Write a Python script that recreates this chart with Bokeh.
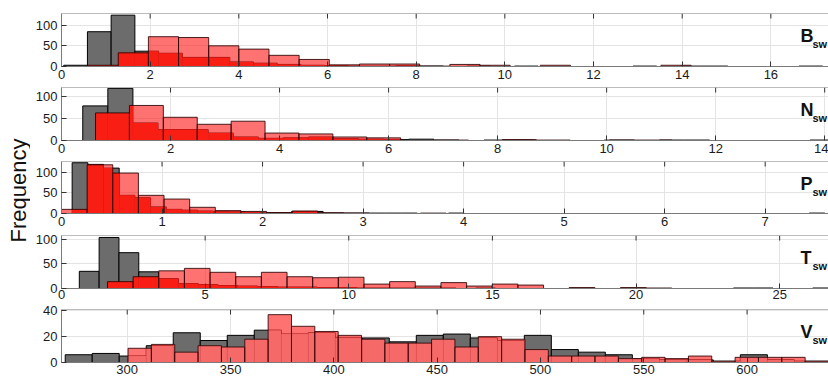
import numpy as np
from bokeh.plotting import figure
from bokeh.layouts import row, column
from bokeh.models import ColumnDataSource, FixedTicker, Range1d, Label, Span
from bokeh.embed import file_html
from bokeh.resources import INLINE
from bokeh.core.properties import value

# ---- B_sw -------------------------------------------------------------
b_gray_start, b_gray_width = 0.05, 0.535
b_gray_counts = [3, 84, 124, 37, 32, 22, 22, 11, 8, 5, 3, 2, 1, 1, 2, 1, 0, 1, 0, 1,
                 0, 0, 0, 0, 1, 0, 1, 1, 0, 0, 0, 1, 0]
b_red_start, b_red_width = 0.60, 0.68
b_red_counts = [3, 33, 72, 70, 50, 42, 27, 17, 4, 6, 6, 1, 5, 3, 0, 3, 0, 0, 0, 3, 0]

# ---- N_sw -------------------------------------------------------------
n_gray_start, n_gray_width = 0.39, 0.46
n_gray_counts = [79, 119, 40, 25, 25, 17, 8, 5, 6, 8, 4, 3, 2, 3, 1, 0, 1, 1, 0, 0,
                 0, 1, 0, 1, 1, 0, 0, 0, 0, 1]
n_red_start, n_red_width = 0.624, 0.622
n_red_counts = [63, 80, 53, 37, 44, 17, 15, 8, 6, 0, 1, 0, 2, 1, 0, 1, 1, 0]

# ---- P_sw -------------------------------------------------------------
p_gray_start, p_gray_width = 0.106, 0.156
p_gray_counts = [123, 119, 110, 44, 38, 16, 10, 8, 6, 5, 4, 3, 2, 2, 5, 5, 1, 1, 1, 1,
                 1, 1, 0, 0, 1, 0, 0, 0, 0, 0, 0, 0, 0, 0, 0, 0, 0, 0, 0, 0,
                 0, 0, 0, 0, 0, 0, 0, 1]
p_red_start, p_red_width = 0.0, 0.255
p_red_counts = [10, 118, 98, 44, 35, 15, 7, 5, 2, 6, 2, 1, 0, 0, 1, 0]

# ---- T_sw -------------------------------------------------------------
t_gray_start, t_gray_width = 0.62, 0.69
t_gray_counts = [35, 104, 73, 34, 20, 10, 8, 6, 5, 4, 3, 3, 2, 2, 1, 1, 1, 1, 1, 0,
                 1, 0, 0, 0, 0, 0, 0, 0, 0, 0, 0, 0, 0, 1, 1, 0, 0, 1]
t_red_start, t_red_width = 1.60, 0.893
t_red_counts = [14, 24, 36, 41, 33, 24, 33, 24, 22, 23, 9, 14, 5, 12, 5, 9, 7, 0, 2, 0,
                2, 1, 0]

# ---- V_sw -------------------------------------------------------------
v_gray_start, v_gray_width = 270.0, 13.07
v_gray_counts = [6, 7, 5, 13, 23, 17, 21, 25, 22, 23, 19, 19, 16, 21, 22, 19, 17, 21, 10, 8,
                 6, 3, 2, 2, 1, 6, 2, 1, 1]
v_red_start, v_red_width = 300.4, 11.3
v_red_counts = [11, 14, 8, 13, 12, 18, 37, 28, 24, 21, 18, 15, 15, 18, 12, 20, 18, 10, 5, 5,
                5, 3, 4, 3, 5, 1, 4, 4, 4, 1]

panel_names = ["B", "N", "P", "T", "V"]
x_ticks = [list(range(0, 17, 2)), list(range(0, 15, 2)), list(range(0, 8)),
           list(range(0, 26, 5)), list(range(300, 601, 50))]
y_ticks = [[0, 50, 100]] * 4 + [[0, 20, 40]]
x_limits = [(0, 17.3), (0, 14.07), (0, 7.63), (0, 26.7), (268.2, 639.4)]
y_limits = [128, 121, 126, 108, 41]

gray_hists = [(b_gray_start, b_gray_width, b_gray_counts),
              (n_gray_start, n_gray_width, n_gray_counts),
              (p_gray_start, p_gray_width, p_gray_counts),
              (t_gray_start, t_gray_width, t_gray_counts),
              (v_gray_start, v_gray_width, v_gray_counts)]
red_hists = [(b_red_start, b_red_width, b_red_counts),
             (n_red_start, n_red_width, n_red_counts),
             (p_red_start, p_red_width, p_red_counts),
             (t_red_start, t_red_width, t_red_counts),
             (v_red_start, v_red_width, v_red_counts)]

# shading of the part where a red bar sits in front of a gray bar
overlap_fill = ["#ee2e16", "#ee2e16", "#ee2e16", "#ee2e16", "white"]
overlap_alpha = [1.0, 1.0, 1.0, 1.0, 0.85]

FONT = "Liberation Sans"
AXIS_COLOR = "#7a7a7a"
TICK_COLOR = "#333333"
GRID_COLOR = "#e4e4e4"
LEFT = 61
TOTAL_W = 828
LABEL_W = 30

# per-panel figure heights, borders (top, bottom) and x tick-label standoff
heights = [85, 74, 73, 71, 73]
borders = [(13, 19), (2, 19), (2, 19), (3, 15), (6, 14)]
x_standoff = [3, 3, 3, 1, 2]


def bin_edges(start, width, counts):
    counts = np.asarray(counts, dtype=float)
    left = start + width * np.arange(len(counts))
    return left, left + width, counts


def hist_source(start, width, counts):
    left, right, top = bin_edges(start, width, counts)
    return ColumnDataSource(dict(left=left, right=right, top=top,
                                 bottom=np.zeros_like(top)))


def overlap_source(gray, red):
    gl, gr, gt = bin_edges(*gray)
    rl, rr, rt = bin_edges(*red)
    cols = dict(left=[], right=[], top=[], bottom=[])
    for a, b, h in zip(gl, gr, gt):
        for c, d, k in zip(rl, rr, rt):
            lo, hi, top = max(a, c), min(b, d), min(h, k)
            if hi > lo and top > 0:
                cols["left"].append(lo)
                cols["right"].append(hi)
                cols["top"].append(top)
                cols["bottom"].append(0.0)
    return ColumnDataSource(cols)


panels = []
for i, name in enumerate(panel_names):
    x0, x1 = x_limits[i]
    ymax = y_limits[i]
    bt, bb = borders[i]
    frame_h = heights[i] - bt - bb
    frame_w = TOTAL_W - LEFT
    p = figure(width=TOTAL_W - LABEL_W, height=heights[i],
               x_range=Range1d(x0, x1), y_range=Range1d(0, ymax),
               toolbar_location=None, output_backend="svg",
               min_border_left=LEFT - LABEL_W, min_border_right=0,
               min_border_top=bt, min_border_bottom=bb)
    p.outline_line_color = None
    p.background_fill_color = "white"

    xt = FixedTicker(ticks=x_ticks[i], minor_ticks=[])
    yt = FixedTicker(ticks=y_ticks[i], minor_ticks=[])
    p.xaxis.ticker = xt
    p.yaxis.ticker = yt
    p.xgrid.ticker = xt
    p.ygrid.ticker = yt
    p.xgrid.grid_line_color = GRID_COLOR
    p.ygrid.grid_line_color = GRID_COLOR

    for ax in (p.xaxis, p.yaxis):
        ax.axis_line_color = AXIS_COLOR
        ax.major_tick_line_color = TICK_COLOR
        ax.major_tick_in = 5
        ax.major_tick_out = 0
        ax.minor_tick_line_color = None
        ax.major_label_text_font = FONT
        ax.major_label_text_font_size = "13px"
        ax.major_label_text_color = "#1a1a1a"
    p.xaxis.major_label_standoff = x_standoff[i]
    p.yaxis.major_label_standoff = 4

    # histograms: gray, then the shared region, then the translucent red
    gray = gray_hists[i]
    red = red_hists[i]
    p.quad(left="left", right="right", top="top", bottom="bottom",
           source=hist_source(*gray),
           fill_color="#6c6c6c", fill_alpha=1.0,
           line_color="black", line_width=1)
    p.quad(left="left", right="right", top="top", bottom="bottom",
           source=overlap_source(gray, red),
           fill_color=overlap_fill[i], fill_alpha=overlap_alpha[i], line_color=None)
    p.quad(left="left", right="right", top="top", bottom="bottom",
           source=hist_source(*red),
           fill_color="#ff1414", fill_alpha=0.6,
           line_color="#2a0000", line_alpha=0.85, line_width=1)

    # top edge of the box with inward ticks
    p.add_layout(Span(location=ymax, dimension="width",
                      line_color=AXIS_COLOR, line_width=1))
    tick_len = 5 / frame_h * ymax
    p.segment(x0=x_ticks[i], y0=[ymax] * len(x_ticks[i]),
              x1=x_ticks[i], y1=[ymax - tick_len] * len(x_ticks[i]),
              line_color=TICK_COLOR, line_width=1)

    # panel tag: letter with "sw" subscript near the right edge
    lx = x0 + (800 - LEFT) / frame_w * (x1 - x0)
    sx = x0 + (812 - LEFT) / frame_w * (x1 - x0)
    p.add_layout(Label(x=lx, y=ymax * (1 - 22 / frame_h), text=name,
                       text_font=FONT, text_font_size="18px", text_font_style="bold",
                       text_color="#111111", text_baseline="alphabetic"))
    p.add_layout(Label(x=sx, y=ymax * (1 - 30 / frame_h), text="sw",
                       text_font=FONT, text_font_size="11px", text_font_style="bold",
                       text_color="#111111", text_baseline="alphabetic"))
    panels.append(p)

# shared y-axis title
lab = figure(width=LABEL_W, height=sum(heights), x_range=(0, 1), y_range=(0, 1),
             toolbar_location=None, output_backend="svg", min_border=0)
lab.axis.visible = False
lab.grid.visible = False
lab.outline_line_color = None
lab.text(x=[0.6], y=[1 - 190 / sum(heights)], text=["Frequency"], angle=np.pi / 2,
         text_font=value(FONT), text_font_size="22px", text_color="#111111",
         text_align="center", text_baseline="middle")

layout = row(lab, column(*panels, spacing=0), spacing=0)
open("out.html", "w").write(file_html(layout, INLINE))
